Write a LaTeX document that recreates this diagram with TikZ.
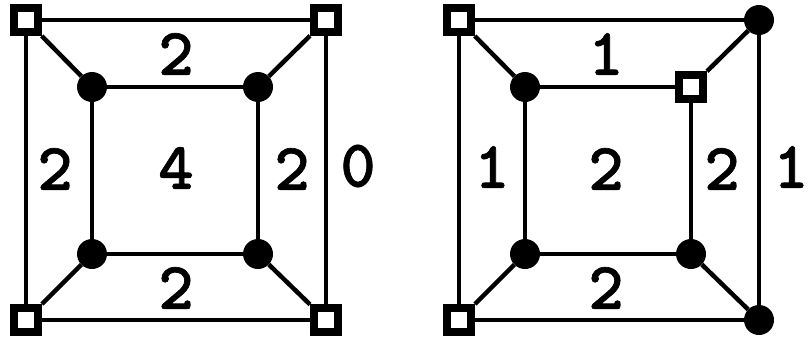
\documentclass[tikz,border=0pt]{standalone}
\usepackage{fontspec}
\newfontfamily\digfont[Extension=.otf,FakeBold=1]{lmmonolt10-bold}
\begin{document}
\begin{tikzpicture}[x=1pt,y=-1pt,
  sq/.style={draw=black,fill=white,line width=8pt,minimum size=24pt,inner sep=0pt,shape=rectangle},
  dot/.style={fill=black,circle,minimum size=30pt,inner sep=0pt},
  edge/.style={line width=4.5pt},
  lbl/.style={font=\fontsize{67}{67}\selectfont\digfont,inner sep=0pt,anchor=center}]
\useasboundingbox (0,0) rectangle (809,343);
% left graph
\node[sq] (a1) at (26,20) {};
\node[sq] (a2) at (326,20) {};
\node[sq] (a3) at (26,320) {};
\node[sq] (a4) at (326,320) {};
\node[dot] (b1) at (92,87) {};
\node[dot] (b2) at (258,87) {};
\node[dot] (b3) at (92,254) {};
\node[dot] (b4) at (258,254) {};
\draw[edge] (a1) -- (a2) -- (a4) -- (a3) -- (a1);
\draw[edge] (b1) -- (b2) -- (b4) -- (b3) -- (b1);
\draw[edge] (a1) -- (b1);
\draw[edge] (a2) -- (b2);
\draw[edge] (a3) -- (b3);
\draw[edge] (a4) -- (b4);
\node[lbl] (l1) at (176,54) {2};
\node[lbl] (l2) at (176,168) {4};
\node[lbl] (l3) at (55,169) {2};
\node[lbl] (l4) at (292,169) {2};
\node[lbl] (l5) at (358,166) {0};
\node[lbl] (l6) at (176,288) {2};
% right graph
\node[sq] (c1) at (459,20) {};
\node[dot] (c2) at (759,20) {};
\node[sq] (c3) at (459,320) {};
\node[dot] (c4) at (759,320) {};
\node[dot] (d1) at (525,87) {};
\node[sq] (d2) at (691,87) {};
\node[dot] (d3) at (525,254) {};
\node[dot] (d4) at (691,254) {};
\draw[edge] (c1) -- (c2) -- (c4) -- (c3) -- (c1);
\draw[edge] (d1) -- (d2) -- (d4) -- (d3) -- (d1);
\draw[edge] (c1) -- (d1);
\draw[edge] (c2) -- (d2);
\draw[edge] (c3) -- (d3);
\draw[edge] (c4) -- (d4);
\node[lbl] (r1) at (606,54) {1};
\node[lbl] (r2) at (606,169) {2};
\node[lbl] (r3) at (492,167) {1};
\node[lbl] (r4) at (722,169) {2};
\node[lbl] (r5) at (791,167) {1};
\node[lbl] (r6) at (606,288) {2};
\end{tikzpicture}
\end{document}
